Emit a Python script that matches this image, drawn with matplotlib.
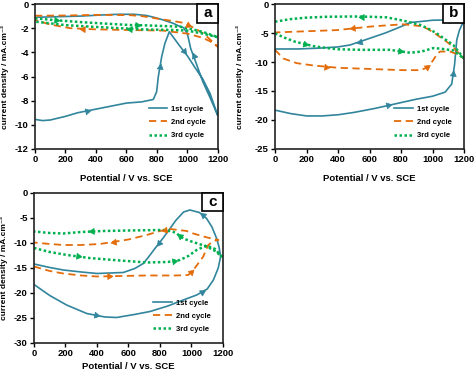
import numpy as np
import matplotlib
matplotlib.use('Agg')
import matplotlib.pyplot as plt
from matplotlib.patches import Rectangle

plt.rcParams['font.family'] = ['Liberation Sans', 'DejaVu Sans']
plt.rcParams['font.weight'] = 'bold'
plt.rcParams['axes.unicode_minus'] = False

TEAL, ORANGE, GREEN = '#31859C', '#E46C0A', '#00B050'
labels = ['1st cycle', '2nd cycle', '3rd cycle']
xticks = [0, 200, 400, 600, 800, 1000, 1200]

# ---- panel a ----
a1_x = [0, 50, 100, 200, 280, 400, 500, 600, 700, 776, 798, 809, 831, 852, 881,
        951, 1000, 1060, 1100, 1148, 1198, 1150, 1100, 1060, 1021, 999, 973, 940,
        907, 841, 780, 730, 650, 550, 450, 300, 150, 0]
a1_y = [-9.55, -9.65, -9.6, -9.3, -9.0, -8.7, -8.45, -8.2, -8.1, -7.9, -7.26, -6.0,
        -4.36, -3.26, -2.3, -3.5, -4.3, -5.46, -6.2, -7.4, -9.2, -7.8, -6.4, -5.0,
        -3.67, -2.43, -1.95, -1.8, -1.6, -1.32, -1.1, -0.95, -0.85, -0.85, -0.9,
        -1.0, -1.05, -1.1]
a2_x = [0, 200, 400, 620, 700, 798, 900, 971, 1040, 1103, 1150, 1200, 1150, 1100,
        1000, 900, 842, 600, 400, 230, 100, 0]
a2_y = [-0.97, -0.95, -0.9, -0.92, -1.0, -1.2, -1.4, -1.55, -1.95, -2.43, -2.95,
        -3.55, -3.1, -2.8, -2.45, -2.3, -2.2, -2.15, -2.1, -2.0, -1.7, -1.32]
a3_x = [0, 100, 175, 300, 500, 623, 709, 900, 951, 1000, 1100, 1200, 1100, 1000,
        900, 700, 550, 400, 200, 100, 0]
a3_y = [-1.19, -1.3, -1.38, -1.5, -1.65, -1.74, -1.76, -1.85, -1.88, -2.0, -2.3,
        -2.75, -2.45, -2.2, -2.15, -2.1, -2.0, -1.9, -1.75, -1.6, -1.46]

# ---- panel b ----
b1_x = [0, 100, 200, 300, 400, 500, 635, 800, 900, 1000, 1080, 1122, 1140, 1154,
        1170, 1186, 1200, 1130, 1069, 1000, 930, 857, 800, 773, 700, 603, 476, 400,
        286, 150, 0]
b1_y = [-18.3, -18.9, -19.3, -19.3, -19.1, -18.7, -18.0, -17.0, -16.4, -15.9, -15.2,
        -13.8, -10.5, -6.2, -4.6, -3.6, -3.3, -2.9, -2.76, -2.8, -3.0, -3.2, -3.9,
        -4.2, -5.0, -5.9, -7.07, -7.4, -7.6, -7.75, -7.76]
b2_x = [0, 53, 138, 243, 400, 603, 800, 921, 953, 980, 1005, 1030, 1048, 1112,
        1160, 1200, 1150, 1132, 1080, 1027, 970, 921, 815, 700, 603, 392, 200, 0]
b2_y = [-7.9, -9.4, -10.2, -10.6, -11.0, -11.2, -11.4, -11.4, -11.1, -10.6, -9.65,
        -8.6, -8.2, -8.2, -8.7, -9.4, -8.0, -7.4, -6.3, -5.3, -4.3, -3.8, -3.5, -3.7,
        -3.9, -4.5, -4.7, -4.9]
b3_x = [0, 60, 127, 250, 392, 550, 730, 857, 930, 1005, 1050, 1132, 1200, 1132,
        1070, 1027, 970, 921, 815, 709, 603, 500, 328, 200, 100, 0]
b3_y = [-5.06, -5.8, -6.5, -7.3, -7.8, -7.9, -7.9, -8.4, -8.2, -7.6, -7.7, -8.0,
        -9.4, -7.07, -5.9, -5.06, -4.2, -3.6, -2.87, -2.3, -2.2, -2.15, -2.2, -2.35,
        -2.6, -3.05]

# ---- panel c ----
c1_x = [0, 100, 207, 335, 450, 525, 637, 737, 850, 948, 1033, 1100, 1139, 1170,
        1185, 1175, 1160, 1130, 1096, 1050, 990, 950, 900, 864, 820, 768, 730, 694,
        640, 567, 400, 300, 186, 100, 0]
c1_y = [-18.3, -20.5, -22.4, -24.1, -24.8, -24.9, -24.3, -23.7, -22.6, -21.4, -20.4,
        -19.2, -17.4, -15.0, -12.7, -10.8, -9.1, -6.8, -5.1, -3.9, -3.4, -3.8, -5.5,
        -7.1, -9.0, -11.1, -12.7, -14.1, -15.1, -15.9, -16.1, -15.8, -15.4, -14.9,
        -14.2]
c2_x = [0, 100, 186, 300, 398, 550, 716, 900, 980, 1012, 1045, 1075, 1095, 1107,
        1140, 1171, 1100, 1000, 970, 864, 800, 716, 600, 419, 300, 186, 100, 0]
c2_y = [-14.7, -15.6, -16.1, -16.5, -16.7, -16.6, -16.5, -16.5, -16.4, -15.4, -14.0,
        -12.7, -11.2, -10.4, -9.6, -9.4, -8.9, -8.0, -7.6, -7.2, -7.6, -8.4, -9.3,
        -10.2, -10.4, -10.4, -10.2, -9.9]
c3_x = [0, 100, 210, 350, 504, 716, 850, 927, 980, 1033, 1096, 1150, 1192, 1150,
        1096, 1000, 948, 906, 880, 821, 600, 440, 300, 186, 100, 0]
c3_y = [-11.0, -11.8, -12.4, -13.0, -13.4, -13.9, -13.8, -13.4, -12.6, -11.4, -10.5,
        -11.2, -12.7, -11.6, -10.7, -9.7, -9.1, -8.1, -7.7, -7.4, -7.5, -7.6, -7.8,
        -8.1, -8.0, -7.7]

panels = [
    dict(tag='a', rect=[0.0738, 0.5984, 0.386, 0.3908], ylim=(-12, 0), ystep=2,
         curves=[(a1_x, a1_y, [4, 11, 15, 23]), (a2_x, a2_y, [7, 18]), (a3_x, a3_y, [1, 5, 15])],
         leg=(0.97, 0.02), ylab=-0.14, xlab=-0.175),
    dict(tag='b', rect=[0.5802, 0.5984, 0.3987, 0.3908], ylim=(-25, 0), ystep=5,
         curves=[(b1_x, b1_y, [6, 11, 17, 25]), (b2_x, b2_y, [3, 8, 24]), (b3_x, b3_y, [2, 6, 20])],
         leg=(0.97, 0.02), ylab=-0.165, xlab=-0.175),
    dict(tag='c', rect=[0.0717, 0.0755, 0.3987, 0.4043], ylim=(-30, 0), ystep=5,
         curves=[(c1_x, c1_y, [3, 10, 18, 24]), (c2_x, c2_y, [4, 8, 19, 22]), (c3_x, c3_y, [2, 6, 16, 21])],
         leg=(0.97, 0.02), ylab=-0.137, xlab=-0.13),
]


def add_arrows(ax, xs, ys, idx, color):
    pts = ax.transData.transform(np.column_stack([xs, ys]))
    for i in idx:
        d = pts[i + 1] - pts[i]
        ang = np.degrees(np.arctan2(d[1], d[0]))
        xm = (xs[i] + xs[i + 1]) / 2.0
        ym = (ys[i] + ys[i + 1]) / 2.0
        ax.plot(xm, ym, marker=(3, 0, ang - 90), ms=5, color=color, mec=color, mew=0.5)


fig = plt.figure(figsize=(4.74, 3.71), dpi=100)
styles = [dict(color=TEAL, lw=1.2, ls='-'),
          dict(color=ORANGE, lw=1.3, dashes=(4, 2.5)),
          dict(color=GREEN, lw=1.8, dashes=(1, 1))]

for p in panels:
    ax = fig.add_axes(p['rect'])
    ax.set_xlim(0, 1200)
    ax.set_ylim(*p['ylim'])
    for (xs, ys, idx), st, lab in zip(p['curves'], styles, labels):
        ax.plot(xs, ys, label=lab, **st)
    for (xs, ys, idx), st in zip(p['curves'], styles):
        add_arrows(ax, xs, ys, idx, st['color'])
    ax.set_xticks(xticks)
    ax.set_yticks(np.arange(p['ylim'][0], 1, p['ystep']))
    ax.tick_params(direction='out', length=3, width=1, labelsize=6.8, pad=1.5)
    for lab in ax.get_xticklabels() + ax.get_yticklabels():
        lab.set_fontweight('bold')
    for s in ax.spines.values():
        s.set_linewidth(1.2)
        s.set_color('#222222')
    ax.set_xlabel('Potential / V vs. SCE', fontsize=6.8, fontweight='bold')
    ax.set_ylabel('current density / mA.cm⁻²', fontsize=6.0, fontweight='bold')
    ax.yaxis.set_label_coords(p['ylab'], 0.5)
    ax.xaxis.set_label_coords(0.5, p['xlab'])
    leg = ax.legend(loc='lower right', bbox_to_anchor=p['leg'], frameon=False,
                    prop=dict(size=5.5, weight='bold'), handlelength=2.4,
                    labelspacing=0.75, handletextpad=0.5)
    # panel tag box
    w, h = 21.0 / (p['rect'][2] * 474), 18.5 / (p['rect'][3] * 371)
    ax.add_patch(Rectangle((1 - w, 1 - h), w, h, transform=ax.transAxes,
                           fc='white', ec='black', lw=1.2, zorder=5, clip_on=False))
    ax.text(1 - w / 2, 1 - h / 2, p['tag'], transform=ax.transAxes, ha='center',
            va='center', fontsize=11, fontweight='bold', zorder=6)

fig.savefig('out.png', dpi=100)
